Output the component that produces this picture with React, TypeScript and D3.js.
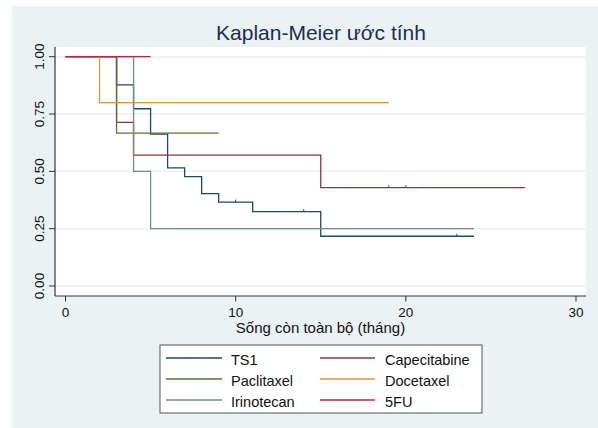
import React from "react";
import * as d3 from "d3";

const W = 598;
const H = 428;

const seriesNames = ["TS1", "Capecitabine", "Paclitaxel", "Docetaxel", "Irinotecan", "5FU"];
const seriesColors = ["#1a476f", "#90353b", "#55752f", "#e8913a", "#6e8e84", "#c9203f"];

const ts1Time = [0, 3, 4, 5, 6, 7, 8, 9, 11, 15, 24];
const ts1Surv = [1, 0.877, 0.773, 0.662, 0.515, 0.477, 0.403, 0.366, 0.324, 0.217, 0.217];
const capTime = [0, 3, 4, 15, 27];
const capSurv = [1, 0.714, 0.571, 0.429, 0.429];
const pacTime = [0, 3, 9];
const pacSurv = [1, 0.667, 0.667];
const docTime = [0, 2, 19];
const docSurv = [1, 0.8, 0.8];
const iriTime = [0, 4, 5, 24];
const iriSurv = [1, 0.5, 0.25, 0.25];
const fuTime = [0, 5];
const fuSurv = [1, 1];

const ts1Censor = [10, 14, 23];
const capCensor = [19, 20];

const xTicks = [0, 10, 20, 30];
const yTicks = [0, 0.25, 0.5, 0.75, 1];
const yTickLabels = ["0.00", "0.25", "0.50", "0.75", "1.00"];

const titleText = "Kaplan-Meier ước tính";
const xTitle = "Sống còn toàn bộ (tháng)";

const FONT = "'Liberation Sans', Arial, Helvetica, sans-serif";

export default function App() {
  const plotL = 55, plotR = 586, plotT = 47, plotB = 296;
  const x = d3.scaleLinear().domain([0, 30]).range([65.5, 576]);
  const y = d3.scaleLinear().domain([0, 1]).range([286, 56.7]);

  const times = [ts1Time, capTime, pacTime, docTime, iriTime, fuTime];
  const survs = [ts1Surv, capSurv, pacSurv, docSurv, iriSurv, fuSurv];
  const censors = [ts1Censor, capCensor, [], [], [], []];

  const line = d3
    .line<[number, number]>()
    .x((d) => x(d[0]))
    .y((d) => y(d[1]))
    .curve(d3.curveStepAfter);

  const survAt = (t: number[], s: number[], tt: number) => {
    let v = s[0];
    for (let i = 0; i < t.length; i++) if (t[i] <= tt) v = s[i];
    return v;
  };

  const legendX = 160, legendY = 345, legendW = 322, legendH = 68;
  const rowY = [358, 379, 400];
  const colLine = [
    [166, 222],
    [320, 375],
  ];
  const colText = [231, 385];

  return (
    <svg width={W} height={H} style={{ position: "absolute", left: 0, top: 0 }}>
      <rect x={0} y={0} width={W} height={H} fill="#ffffff" />
      <rect x={12} y={6} width={W - 12} height={H - 6} fill="#eaf2f3" />
      <rect x={plotL} y={plotT} width={plotR - plotL} height={plotB - plotT} fill="#ffffff" />

      {yTicks.map((t) => (
        <line key={"g" + t} x1={plotL} x2={plotR} y1={y(t)} y2={y(t)} stroke="#eaf2f3" strokeWidth={1.5} />
      ))}

      <text x={321} y={40} textAnchor="middle" fontFamily={FONT} fontSize={21} fill="#1e2d53">
        {titleText}
      </text>

      {seriesNames.map((n, i) => {
        const pts: [number, number][] = times[i].map((t, j) => [t, survs[i][j]]);
        return (
          <g key={n}>
            <path d={line(pts) || ""} fill="none" stroke={seriesColors[i]} strokeWidth={1.3} />
            {censors[i].map((c) => {
              const v = survAt(times[i], survs[i], c);
              return (
                <line key={c} x1={x(c)} x2={x(c)} y1={y(v) - 2.5} y2={y(v)} stroke={seriesColors[i]} strokeWidth={1} />
              );
            })}
          </g>
        );
      })}

      <line x1={plotL} x2={plotL} y1={plotT} y2={plotB} stroke="#333" strokeWidth={1.2} />
      <line x1={plotL} x2={plotR} y1={plotB} y2={plotB} stroke="#333" strokeWidth={1.2} />

      {yTicks.map((t, i) => (
        <g key={"yt" + t}>
          <line x1={49} x2={plotL} y1={y(t)} y2={y(t)} stroke="#333" strokeWidth={1} />
          <text
            transform={`translate(43.5,${y(t)}) rotate(-90)`}
            textAnchor="middle"
            fontFamily={FONT}
            fontSize={13.5}
            fill="#111"
          >
            {yTickLabels[i]}
          </text>
        </g>
      ))}

      {xTicks.map((t) => (
        <g key={"xt" + t}>
          <line x1={x(t)} x2={x(t)} y1={plotB} y2={plotB + 5.5} stroke="#333" strokeWidth={1} />
          <text x={x(t)} y={317} textAnchor="middle" fontFamily={FONT} fontSize={13.5} fill="#111">
            {t}
          </text>
        </g>
      ))}

      <text x={320.5} y={333} textAnchor="middle" fontFamily={FONT} fontSize={15} fill="#111">
        {xTitle}
      </text>

      <rect x={legendX} y={legendY} width={legendW} height={legendH} fill="#ffffff" stroke="#555" strokeWidth={1} />
      {seriesNames.map((n, i) => {
        const col = i % 2;
        const row = Math.floor(i / 2);
        return (
          <g key={"lg" + n}>
            <line
              x1={colLine[col][0]}
              x2={colLine[col][1]}
              y1={rowY[row]}
              y2={rowY[row]}
              stroke={seriesColors[i]}
              strokeWidth={1.3}
            />
            <text x={colText[col]} y={rowY[row] + 6.5} fontFamily={FONT} fontSize={14.5} fill="#111">
              {n}
            </text>
          </g>
        );
      })}
    </svg>
  );
}
